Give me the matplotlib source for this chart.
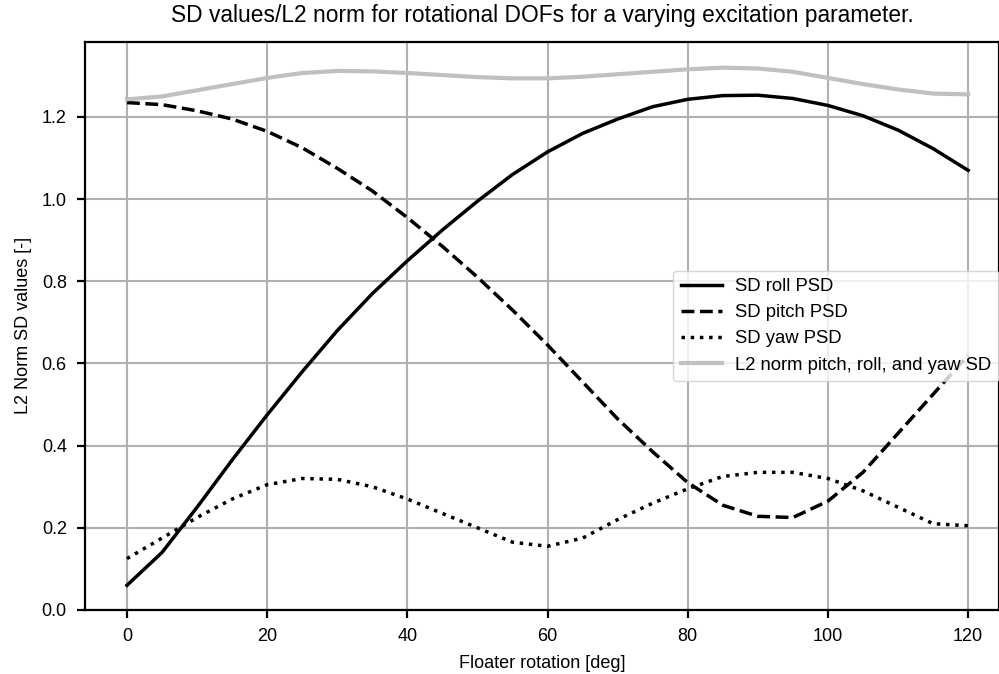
import matplotlib
matplotlib.use("Agg")
import matplotlib.pyplot as plt

plt.rcParams['font.family'] = ['Liberation Sans', 'DejaVu Sans']

rotation = [0, 5, 10, 15, 20, 25, 30, 35, 40, 45, 50, 55, 60,
            65, 70, 75, 80, 85, 90, 95, 100, 105, 110, 115, 120]

sd_roll = [0.06, 0.14, 0.25, 0.365, 0.475, 0.58, 0.68, 0.77, 0.85, 0.925, 0.995, 1.06, 1.115,
           1.16, 1.195, 1.225, 1.243, 1.252, 1.253, 1.245, 1.228, 1.203, 1.168, 1.123, 1.07]

sd_pitch = [1.235, 1.23, 1.215, 1.195, 1.165, 1.125, 1.075, 1.02, 0.955, 0.885, 0.81, 0.73, 0.645,
            0.555, 0.465, 0.385, 0.31, 0.255, 0.228, 0.225, 0.265, 0.335, 0.43, 0.525, 0.62]

sd_yaw = [0.125, 0.175, 0.225, 0.27, 0.305, 0.32, 0.318, 0.3, 0.27, 0.235, 0.2, 0.165, 0.155,
          0.175, 0.22, 0.26, 0.295, 0.325, 0.335, 0.335, 0.32, 0.29, 0.25, 0.21, 0.205]

l2_norm = [1.243, 1.25, 1.265, 1.28, 1.295, 1.307, 1.312, 1.311, 1.307, 1.302, 1.297, 1.294, 1.294,
           1.298, 1.304, 1.31, 1.316, 1.32, 1.318, 1.31, 1.295, 1.28, 1.267, 1.257, 1.255]

fig = plt.figure(figsize=(9.99, 6.74), dpi=100)
ax = fig.add_axes([0.085, 0.095, 0.915, 0.843])

ax.plot(rotation, sd_roll, color='black', linestyle='-', linewidth=2.5, label='SD roll PSD')
ax.plot(rotation, sd_pitch, color='black', linestyle='--', linewidth=2.5, label='SD pitch PSD')
ax.plot(rotation, sd_yaw, color='black', linestyle=':', linewidth=2.5, label='SD yaw PSD')
ax.plot(rotation, l2_norm, color='#c0c0c0', linestyle='-', linewidth=3,
        label='L2 norm pitch, roll, and yaw SD')

ax.set_xlim(-6, 124.4)
ax.set_ylim(0, 1.383)
ax.set_xticks([0, 20, 40, 60, 80, 100, 120])
ax.set_yticks([0.0, 0.2, 0.4, 0.6, 0.8, 1.0, 1.2])
ax.grid(True, color='#b0b0b0', linewidth=1.5)
ax.set_axisbelow(True)
for s in ax.spines.values():
    s.set_linewidth(1.6)
ax.tick_params(labelsize=13, width=1.6, length=6, pad=7)

ax.set_xlabel('Floater rotation [deg]', fontsize=13, labelpad=7)
ax.set_ylabel('L2 Norm SD values [-]', fontsize=13, labelpad=7)
ax.set_title('SD values/L2 norm for rotational DOFs for a varying excitation parameter.',
             fontsize=16.4, pad=14.5)
ax.legend(loc='center right', bbox_to_anchor=(1.0, 0.5), fontsize=13.3,
          handlelength=2.2, handletextpad=0.75, borderpad=0.4, labelspacing=0.5,
          borderaxespad=0.0)

fig.savefig('out.png', dpi=100)
